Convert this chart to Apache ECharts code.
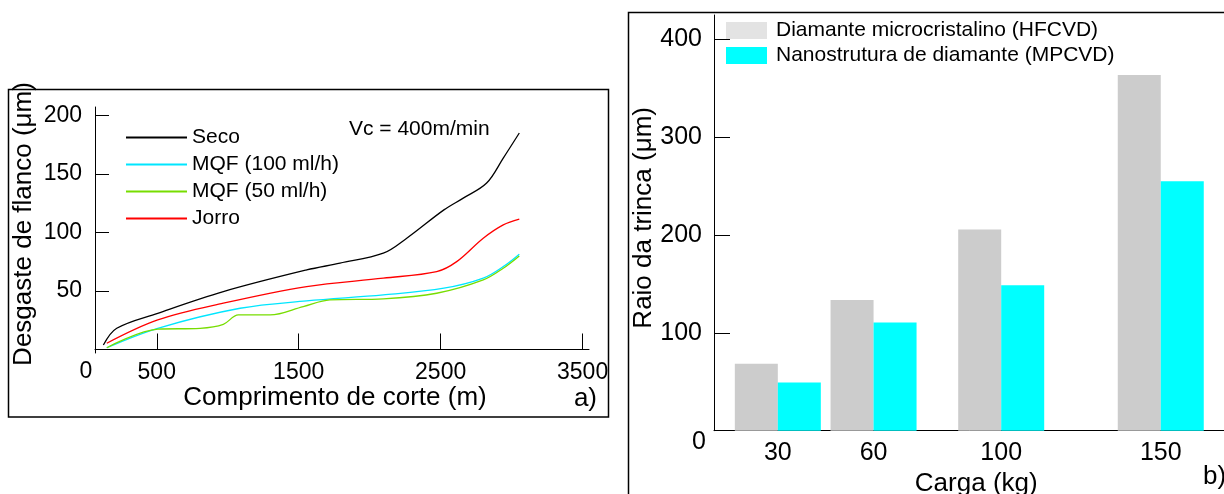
<!DOCTYPE html>
<html>
<head>
<meta charset="utf-8">
<script src="https://cdn.jsdelivr.net/npm/echarts@6/dist/echarts.min.js"></script>
<style>
html,body{margin:0;padding:0;background:#fff;}
#c{width:1224px;height:494px;}
</style>
</head>
<body>
<div id="c"></div>
<script>
// ---- Panel a) : flank wear vs cutting length ----
const seriesNamesA = ['Seco', 'MQF (100 ml/h)', 'MQF (50 ml/h)', 'Jorro'];
const seco = [[124,3.8],[218,18.1],[507,30.9],[969,49.4],[1556,67.9],[1791,73.7],[2096,82.2],[2261,95.0],[2523,119.2],[2659,129.2],[2824,142.1],[2941,163.4],[3054,184.8]];
const mqf100 = [[148,1.5],[507,18.1],[1087,35.2],[1556,41.5],[2096,46.6],[2523,52.3],[2800,60.9],[2941,70.8],[3054,81.4]];
const mqf50 = [[148,1.5],[507,17.3],[805,18.1],[969,21.5],[1075,29.5],[1298,29.5],[1532,36.6],[1720,42.3],[2096,43.2],[2472,48.0],[2800,59.4],[2941,69.4],[3054,79.9]];
const jorro = [[148,5.3],[507,25.2],[969,39.5],[1556,53.7],[2096,60.9],[2472,66.5],[2613,75.0],[2800,95.0],[2941,106.4],[3054,111.3]];
const xTicksA = [500, 1500, 2500, 3500];
const yTicksA = [50, 100, 150, 200];

// ---- Panel b) : crack radius vs load ----
const seriesNamesB = ['Diamante microcristalino (HFCVD)', 'Nanostrutura de diamante (MPCVD)'];
const cargas = [30, 60, 100, 150];
const hfcvd = [68.4, 133.5, 205.7, 363.6];
const mpcvd = [49.3, 110.7, 148.8, 255.0];
const yTicksB = [100, 200, 300, 400];

const FONT = "'Liberation Sans', Arial, sans-serif";
const chart = echarts.init(document.getElementById('c'), null, {renderer: 'canvas'});

const lineColors = ['#000000', '#00e6ff', '#77dd00', '#ff0000'];
const lineData = [seco, mqf100, mqf50, jorro];
const plain = function (v) { return String(v); };

const option = {
  animation: false,
  backgroundColor: '#ffffff',
  textStyle: {fontFamily: FONT, color: '#000'},
  grid: [
    {left: 95, top: 107, width: 494, height: 246, outerBoundsMode: 'none', containLabel: false},
    {left: 714, top: 15, width: 542.5, height: 415.7, outerBoundsMode: 'none', containLabel: false}
  ],
  xAxis: [
    {
      gridIndex: 0, type: 'value', min: 65, max: 3545,
      splitLine: {show: false},
      axisLine: {lineStyle: {color: '#000', width: 1}},
      axisTick: {inside: true, length: 16, customValues: xTicksA, lineStyle: {color: '#000'}},
      axisLabel: {customValues: xTicksA, formatter: plain, margin: 8, fontSize: 23, color: '#000', fontFamily: FONT},
      name: 'Comprimento de corte (m)', nameLocation: 'middle', nameGap: 30,
      nameTextStyle: {fontSize: 26, color: '#000', fontFamily: FONT, padding: [0, 14, 0, 0]}
    },
    {
      gridIndex: 1, type: 'value', min: 10, max: 180,
      splitLine: {show: false},
      axisLine: {lineStyle: {color: '#000', width: 1}},
      axisTick: {show: false},
      axisLabel: {customValues: cargas, formatter: plain, margin: 10, fontSize: 25, color: '#000', fontFamily: FONT},
      name: 'Carga (kg)', nameLocation: 'middle', nameGap: 36,
      nameTextStyle: {fontSize: 26, color: '#000', fontFamily: FONT, padding: [0, 18, 0, 0]}
    }
  ],
  yAxis: [
    {
      gridIndex: 0, type: 'value', min: -3, max: 207,
      splitLine: {show: false},
      axisLine: {show: true, lineStyle: {color: '#000', width: 1}},
      axisTick: {show: true, inside: true, length: 14, customValues: yTicksA, lineStyle: {color: '#000'}},
      axisLabel: {customValues: yTicksA, formatter: plain, margin: 13, fontSize: 23, color: '#000', fontFamily: FONT},
      name: 'Desgaste de flanco (μm)', nameLocation: 'middle', nameGap: 58,
      nameTextStyle: {fontSize: 26, color: '#000', fontFamily: FONT, padding: [0, 0, 0, 12]}
    },
    {
      gridIndex: 1, type: 'value', min: 0, max: 425,
      splitLine: {show: false},
      axisLine: {show: true, lineStyle: {color: '#000', width: 1}},
      axisTick: {show: true, inside: true, length: 16, customValues: yTicksB, lineStyle: {color: '#000'}},
      axisLabel: {customValues: yTicksB, formatter: plain, margin: 12, fontSize: 25, color: '#000', fontFamily: FONT},
      name: 'Raio da trinca (μm)', nameLocation: 'middle', nameGap: 48,
      nameTextStyle: {fontSize: 26, color: '#000', fontFamily: FONT, padding: [0, 0, 0, 10]}
    }
  ],
  legend: [
    {
      orient: 'vertical', left: 125, top: 127, padding: 0, itemWidth: 61, itemHeight: 14, itemGap: 6,
      data: seriesNamesA,
      itemStyle: {opacity: 0, color: 'rgba(0,0,0,0)', borderColor: 'rgba(0,0,0,0)', borderWidth: 0},
      textStyle: {fontSize: 21, fontFamily: FONT, color: '#000', lineHeight: 21}
    },
    {
      orient: 'vertical', left: 726, top: 20, padding: 0, itemWidth: 41, itemHeight: 17, itemGap: 4,
      icon: 'rect',
      data: [
        {name: seriesNamesB[0], itemStyle: {color: '#e3e3e3'}},
        {name: seriesNamesB[1], itemStyle: {color: '#00ffff'}}
      ],
      textStyle: {fontSize: 21, fontFamily: FONT, color: '#000', padding: [0, 0, 0, 4]}
    }
  ],
  series: seriesNamesA.map(function (n, i) {
    return {
      name: n, type: 'line', xAxisIndex: 0, yAxisIndex: 0,
      data: lineData[i], smooth: 0.35, symbol: 'none',
      lineStyle: {color: lineColors[i], width: 1.3},
      itemStyle: {color: lineColors[i]}
    };
  }).concat([
    {
      name: seriesNamesB[0], type: 'bar', xAxisIndex: 1, yAxisIndex: 1,
      data: cargas.map(function (c, i) { return [c, hfcvd[i]]; }),
      barWidth: 43, barGap: '0%', itemStyle: {color: '#cccccc'}
    },
    {
      name: seriesNamesB[1], type: 'bar', xAxisIndex: 1, yAxisIndex: 1,
      data: cargas.map(function (c, i) { return [c, mpcvd[i]]; }),
      barWidth: 43, barGap: '0%', itemStyle: {color: '#00ffff'}
    }
  ])
};
chart.setOption(option);

// Decorative frames and annotations; the "0" origin labels placed through the scales
const zeroXA = chart.convertToPixel({xAxisIndex: 0}, 0);
const zeroYB = chart.convertToPixel({yAxisIndex: 1}, 0);
const axisXB = chart.convertToPixel({xAxisIndex: 1}, 10);
chart.setOption({
  graphic: [
    {type: 'rect', shape: {x: 8.5, y: 89.5, width: 600, height: 327.5}, style: {fill: null, stroke: '#000', lineWidth: 1.5}, silent: true},
    {type: 'rect', shape: {x: 628.5, y: 12.5, width: 700, height: 600}, style: {fill: null, stroke: '#000', lineWidth: 1.5}, silent: true},
    {type: 'text', x: zeroXA, y: 372, style: {text: '0', font: '23px ' + FONT, fill: '#000', textAlign: 'center', textVerticalAlign: 'middle'}},
    {type: 'text', x: axisXB - 8, y: zeroYB + 11, style: {text: '0', font: '25px ' + FONT, fill: '#000', textAlign: 'right', textVerticalAlign: 'middle'}},
    {type: 'text', x: 349, y: 129, style: {text: 'Vc = 400m/min', font: '21px ' + FONT, fill: '#000', textAlign: 'left', textVerticalAlign: 'middle'}},
    {type: 'text', x: 597, y: 399, style: {text: 'a)', font: '26px ' + FONT, fill: '#000', textAlign: 'right', textVerticalAlign: 'middle'}},
    {type: 'text', x: 1203, y: 477, style: {text: 'b)', font: '26px ' + FONT, fill: '#000', textAlign: 'left', textVerticalAlign: 'middle'}}
  ]
});
</script>
</body>
</html>
